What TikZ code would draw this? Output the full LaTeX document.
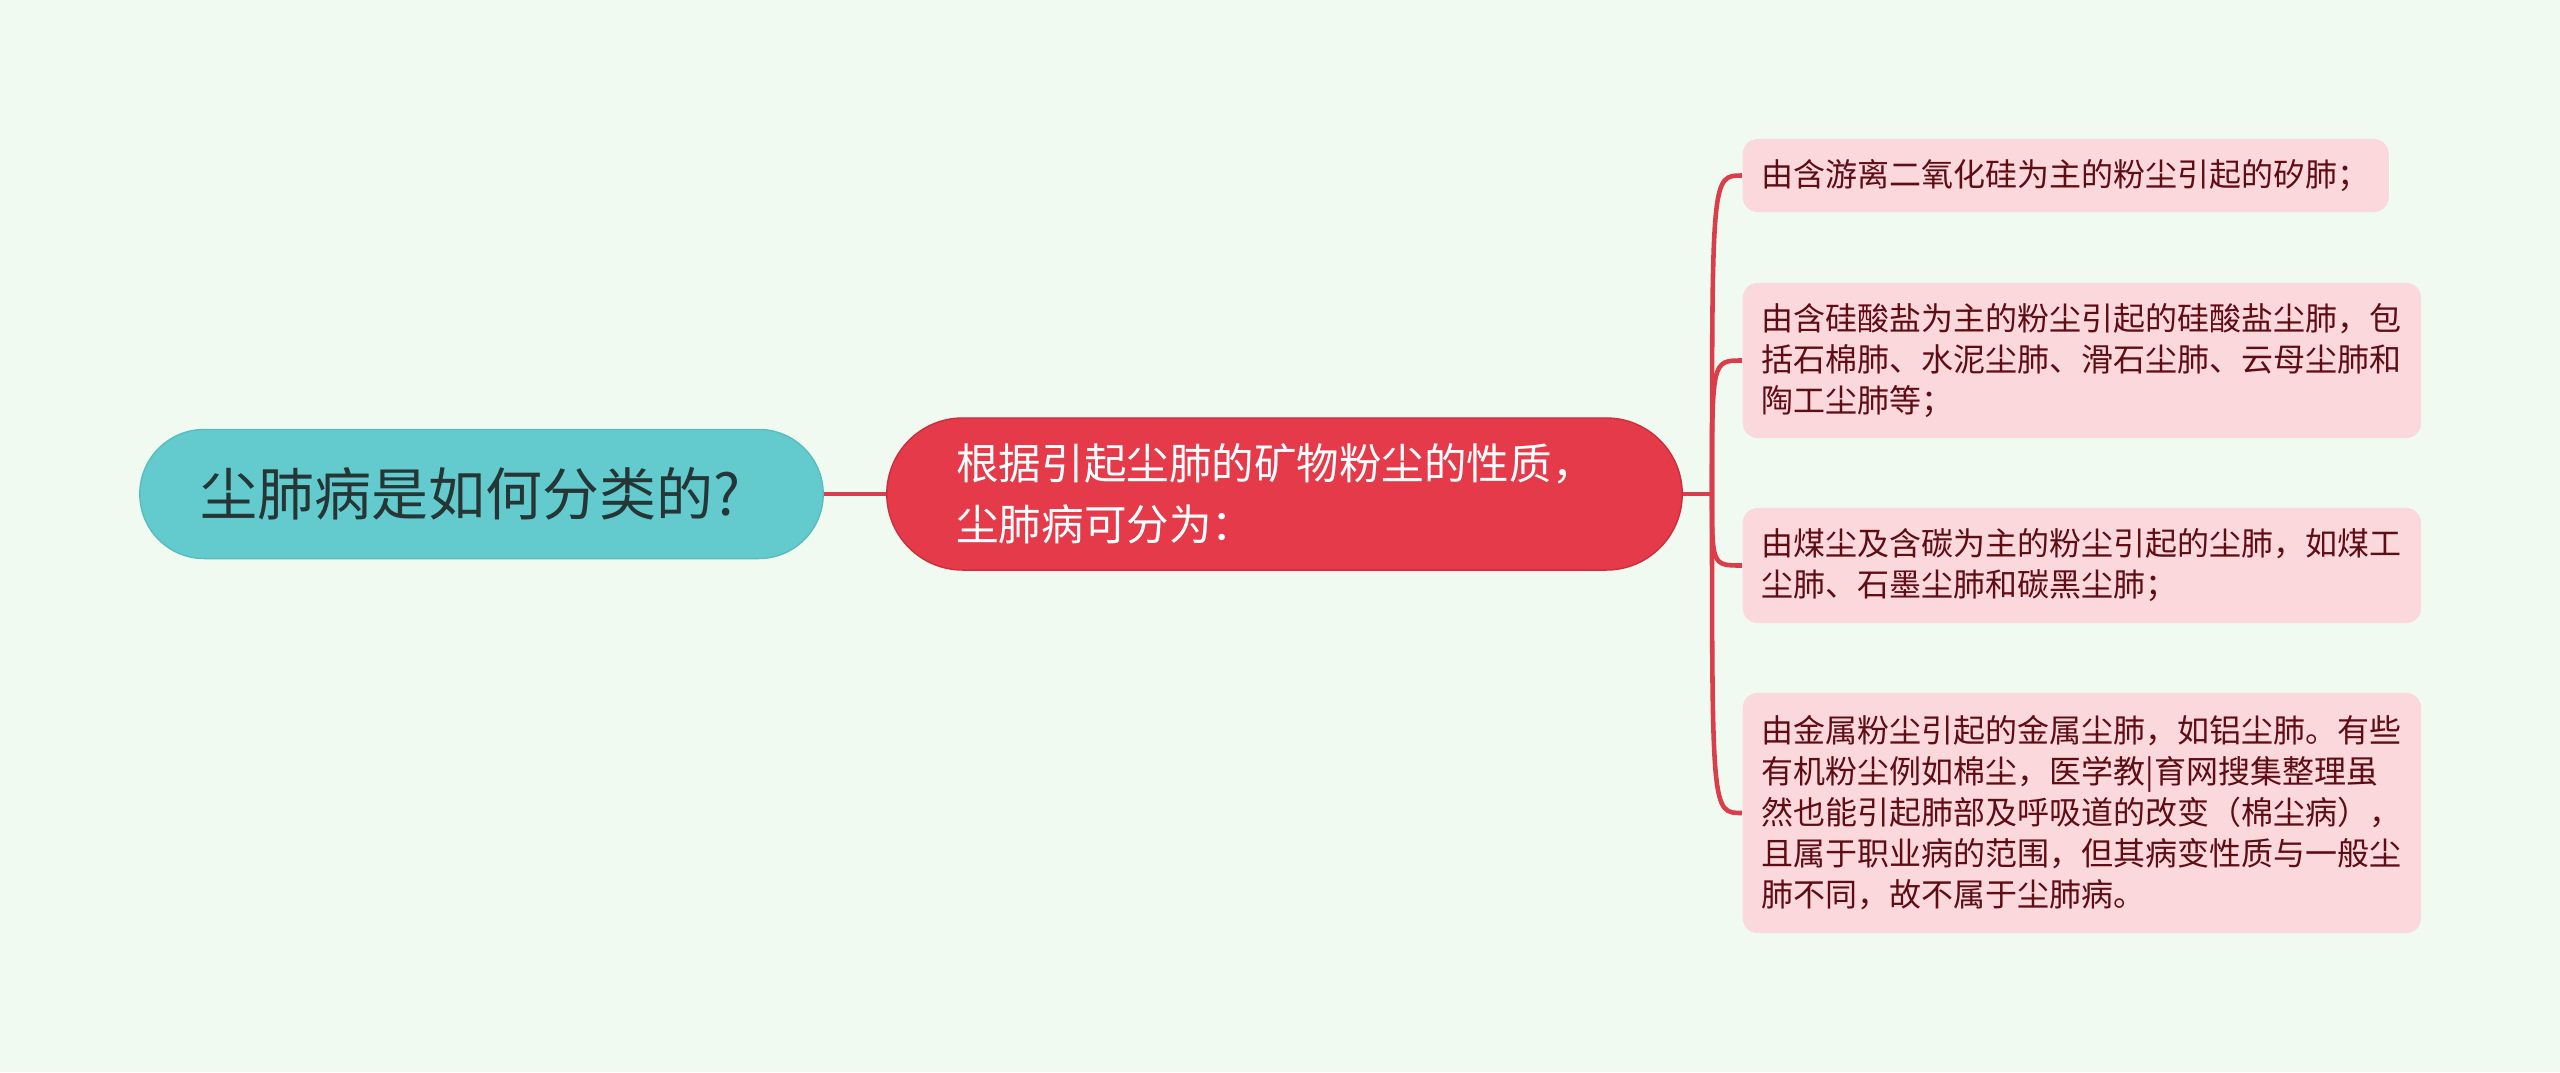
\documentclass[tikz,border=0pt]{standalone}
\usepackage{fontspec}
\setmainfont{Noto Sans CJK SC}
\usetikzlibrary{positioning}
\definecolor{bgcol}{HTML}{F0FAF0}
\definecolor{tealcol}{HTML}{63CBCD}
\definecolor{tealline}{HTML}{57BDBF}
\definecolor{redcol}{HTML}{E43A4A}
\definecolor{redline}{HTML}{CC2E3D}
\definecolor{pinkcol}{HTML}{FBD8DC}
\definecolor{leaftxt}{HTML}{5E0D14}
\definecolor{linecol}{HTML}{DA3E4B}
\definecolor{roottxt}{HTML}{263535}
\tikzset{mynode1/.style={draw=tealline,line width=0.4pt,fill=tealcol,text=roottxt,
    font=\fontsize{16.2pt}{19pt}\selectfont,inner sep=0pt}}
\tikzset{mynode2/.style={draw=redline,line width=0.4pt,fill=redcol,text=white,align=left,
    font=\fontsize{12.1pt}{17.35pt}\selectfont,inner sep=0pt}}
\tikzset{mynode3/.style={fill=pinkcol,text=leaftxt,align=left,anchor=west,
    rounded corners=0.15cm,inner xsep=0.19cm,inner ysep=0pt,
    font=\fontsize{9.1pt}{11.67pt}\selectfont}}
\tikzset{myline/.style={draw=linecol,line width=1.3pt}}

\begin{document}
\begin{tikzpicture}[x=0.01cm,y=-0.01cm]

	  \fill [bgcol] (0,0) rectangle (2560,1072);
	  \useasboundingbox (0,0) rectangle (2560,1072);

	  % main topic and first level
	  \node [mynode1,minimum width=6.83cm,minimum height=1.29cm,rounded corners=0.645cm] (root) at (481.5,494) {尘肺病是如何分类的?\hspace*{0.22cm}};
	  \node [mynode2,minimum width=7.95cm,minimum height=1.52cm,rounded corners=0.76cm] (kind) at (1284.5,494) {根据引起尘肺的矿物粉尘的性质，\hspace*{0.18cm}\\尘肺病可分为：};

	  % leaves
	  \node [mynode3,minimum height=0.73cm] (leafa) at (1742,175.5) {由含游离二氧化硅为主的粉尘引起的矽肺；};
	  \node [mynode3,minimum width=6.78cm,minimum height=1.55cm] (leafb) at (1742,360.5) {由含硅酸盐为主的粉尘引起的硅酸盐尘肺，包\\括石棉肺、水泥尘肺、滑石尘肺、云母尘肺和\\陶工尘肺等；};
	  \node [mynode3,minimum width=6.78cm,minimum height=1.15cm] (leafc) at (1742,565.5) {由煤尘及含碳为主的粉尘引起的尘肺，如煤工\\尘肺、石墨尘肺和碳黑尘肺；};
	  \node [mynode3,minimum width=6.78cm,minimum height=2.40cm] (leafd) at (1742,813) {由金属粉尘引起的金属尘肺，如铝尘肺。有些\\有机粉尘例如棉尘，医学教|育网搜集整理虽\\然也能引起肺部及呼吸道的改变（棉尘病），\\且属于职业病的范围，但其病变性质与一般尘\\肺不同，故不属于尘肺病。};

	  % connectors
	  \coordinate (jn) at (1712,494);
	  \draw [myline] (root.east) -- (kind.west);
	  \draw [myline] (kind.east) -- (jn);
	  \draw [myline] (jn) .. controls (1712,175.5) .. (leafa.west);
	  \draw [myline] (jn) .. controls (1712,360.5) .. (leafb.west);
	  \draw [myline] (jn) .. controls (1712,565.5) .. (leafc.west);
	  \draw [myline] (jn) .. controls (1712,813) .. (leafd.west);

\end{tikzpicture}
\end{document}
